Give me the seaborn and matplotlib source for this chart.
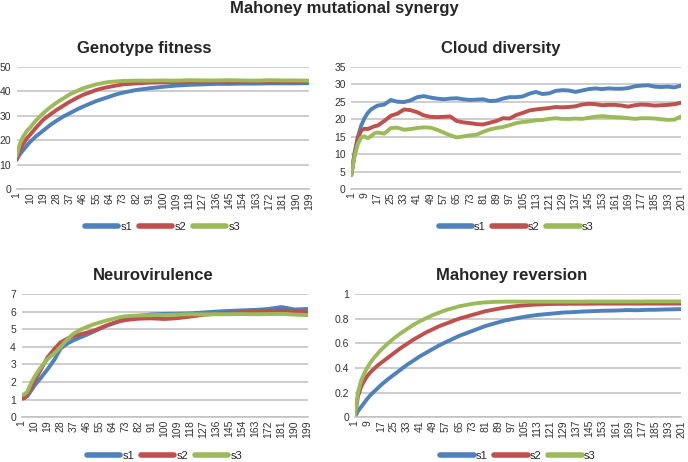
import numpy as np
import pandas as pd
import matplotlib
matplotlib.use("Agg")
import matplotlib.pyplot as plt
import seaborn as sns

# generations
gen_left = [1, 3, 5, 8, 10, 14, 19, 24, 28, 33, 37, 42, 46, 51, 55, 60, 64, 69, 73,
            82, 91, 100, 109, 118, 127, 136, 145, 154, 163, 172, 181, 190, 199]
gen_right = [1, 3, 5, 7, 9, 11, 13, 15, 17, 21, 25, 29, 33, 37, 41, 45, 49, 53, 57, 61,
             65, 69, 73, 77, 81, 85, 89, 93, 97, 101, 105, 109, 113, 117, 121, 125, 129,
             133, 137, 141, 145, 149, 153, 157, 161, 165, 169, 173, 177, 181, 185, 189,
             193, 197, 201]

# Genotype fitness
fit_s1 = [12.0, 14.0, 15.6, 17.8, 19.2, 21.5, 23.9, 26.3, 27.9, 29.8, 31.0, 32.6, 33.7,
          35.0, 36.0, 37.0, 37.8, 38.8, 39.4, 40.5, 41.2, 41.8, 42.3, 42.6, 42.8, 43.0,
          43.0, 43.1, 43.1, 43.2, 43.2, 43.2, 43.3]
fit_s2 = [12.0, 15.5, 18.0, 20.8, 22.1, 25.0, 28.3, 30.6, 32.3, 34.2, 35.7, 37.3, 38.5,
          39.6, 40.5, 41.3, 41.8, 42.4, 42.8, 43.2, 43.5, 43.6, 43.7, 43.7, 43.7, 43.8,
          43.7, 43.8, 43.8, 43.8, 43.8, 43.8, 43.8]
fit_s3 = [13.5, 18.0, 21.0, 23.8, 25.0, 28.0, 31.0, 33.5, 35.3, 37.2, 38.7, 40.1, 41.2,
          42.1, 42.8, 43.4, 43.8, 44.0, 44.2, 44.3, 44.3, 44.4, 44.3, 44.5, 44.4, 44.4,
          44.5, 44.4, 44.3, 44.5, 44.4, 44.4, 44.3]

# Cloud diversity
cloud_s1 = [4.1, 10.5, 15.0, 18.2, 20.3, 21.8, 22.8, 23.4, 23.9, 24.2, 25.5, 25.0, 24.9,
            25.4, 26.3, 26.6, 26.2, 25.9, 25.7, 25.9, 26.0, 25.7, 25.5, 25.6, 25.7, 25.2,
            25.3, 25.9, 26.3, 26.3, 26.5, 27.3, 27.8, 27.2, 27.4, 28.1, 28.3, 28.2, 27.8,
            28.2, 28.6, 28.8, 28.6, 28.8, 28.7, 28.7, 28.9, 29.4, 29.6, 29.7, 29.3, 29.2,
            29.3, 29.1, 29.6]
cloud_s2 = [4.1, 10.0, 14.5, 16.8, 17.3, 17.2, 17.6, 18.0, 18.2, 19.5, 21.0, 21.6, 22.8,
            22.6, 22.0, 21.1, 20.7, 20.6, 20.7, 20.8, 19.5, 19.1, 18.9, 18.6, 18.5, 19.0,
            19.5, 20.3, 20.2, 21.2, 21.8, 22.5, 22.8, 23.0, 23.2, 23.5, 23.4, 23.5, 23.7,
            24.2, 24.4, 24.3, 24.0, 24.1, 24.1, 23.9, 23.6, 24.0, 24.2, 24.1, 23.9, 24.0,
            24.1, 24.3, 24.7]
cloud_s3 = [4.1, 9.5, 13.0, 14.8, 15.1, 14.6, 15.2, 16.0, 16.2, 15.9, 17.5, 17.6, 17.0,
            17.2, 17.5, 17.7, 17.6, 17.0, 16.2, 15.4, 14.8, 15.1, 15.4, 15.6, 16.4, 17.1,
            17.5, 17.8, 18.3, 18.9, 19.2, 19.4, 19.7, 19.8, 20.1, 20.3, 20.1, 20.1, 20.2,
            20.1, 20.4, 20.7, 20.9, 20.7, 20.6, 20.5, 20.3, 20.1, 20.3, 20.3, 20.2, 20.0,
            19.8, 19.9, 20.8]

# Neurovirulence
neuro_s1 = [1.08, 1.12, 1.2, 1.55, 1.8, 2.2, 2.72, 3.3, 3.9, 4.2, 4.37, 4.55, 4.68, 4.87,
            5.02, 5.2, 5.32, 5.49, 5.6, 5.75, 5.84, 5.87, 5.88, 5.9, 5.95, 6.0, 6.04, 6.07,
            6.1, 6.15, 6.26, 6.12, 6.15]
neuro_s2 = [1.05, 1.08, 1.3, 1.75, 2.05, 2.65, 3.4, 3.9, 4.25, 4.48, 4.6, 4.72, 4.8, 4.92,
            5.05, 5.22, 5.33, 5.45, 5.52, 5.6, 5.62, 5.58, 5.63, 5.72, 5.82, 5.88, 5.93,
            5.97, 6.0, 6.03, 6.06, 6.03, 5.98]
neuro_s3 = [1.27, 1.3, 1.45, 2.0, 2.3, 2.8, 3.3, 3.65, 4.0, 4.45, 4.75, 4.98, 5.12, 5.28,
            5.38, 5.5, 5.58, 5.68, 5.74, 5.78, 5.8, 5.81, 5.83, 5.85, 5.84, 5.85, 5.85,
            5.86, 5.85, 5.86, 5.87, 5.83, 5.8]

# Mahoney reversion
rev_s1 = [0, 0.05, 0.085, 0.12, 0.155, 0.185, 0.21, 0.235, 0.26, 0.305, 0.345, 0.385,
          0.425, 0.46, 0.495, 0.525, 0.555, 0.585, 0.61, 0.635, 0.66, 0.68, 0.70, 0.72,
          0.74, 0.755, 0.77, 0.785, 0.795, 0.805, 0.815, 0.823, 0.83, 0.835, 0.84, 0.845,
          0.85, 0.852, 0.855, 0.858, 0.86, 0.862, 0.864, 0.865, 0.866, 0.868, 0.87, 0.868,
          0.87, 0.872, 0.872, 0.874, 0.875, 0.876, 0.878]
rev_s2 = [0, 0.17, 0.25, 0.3, 0.34, 0.37, 0.395, 0.42, 0.44, 0.48, 0.52, 0.56, 0.595,
          0.63, 0.66, 0.69, 0.715, 0.74, 0.76, 0.78, 0.80, 0.815, 0.83, 0.845, 0.86, 0.87,
          0.88, 0.89, 0.897, 0.903, 0.908, 0.912, 0.915, 0.917, 0.919, 0.92, 0.92, 0.921,
          0.921, 0.921, 0.921, 0.922, 0.922, 0.922, 0.922, 0.922, 0.922, 0.922, 0.922,
          0.922, 0.922, 0.922, 0.922, 0.922, 0.922]
rev_s3 = [0, 0.2, 0.3, 0.36, 0.41, 0.45, 0.485, 0.515, 0.545, 0.595, 0.64, 0.68, 0.715,
          0.75, 0.78, 0.805, 0.83, 0.85, 0.87, 0.885, 0.9, 0.91, 0.92, 0.927, 0.932, 0.935,
          0.937, 0.938, 0.938, 0.938, 0.938, 0.938, 0.938, 0.938, 0.938, 0.938, 0.938,
          0.938, 0.938, 0.938, 0.939, 0.939, 0.939, 0.939, 0.939, 0.939, 0.939, 0.939,
          0.939, 0.94, 0.94, 0.94, 0.94, 0.94, 0.94]

series_names = ["s1", "s2", "s3"]
colors = ["#4F81BD", "#C0504D", "#9BBB59"]

sns.set_style("white")
plt.rcParams["font.family"] = ["Liberation Sans", "DejaVu Sans"]

fig = plt.figure(figsize=(6.88, 4.62), dpi=100)
W, H = 688, 462


def make_ax(x0, x1, ytop, ybot):
    return fig.add_axes([x0 / W, 1 - ybot / H, (x1 - x0) / W, (ybot - ytop) / H])


# title, x, series, ylim, y step, axes, x ticks, title centre (px)
panels = [
    ("Genotype fitness", gen_left, [fit_s1, fit_s2, fit_s3], (0, 50), 10,
     make_ax(16.5, 309, 66.7, 189.3), range(1, 200, 9), 144),
    ("Cloud diversity", gen_right, [cloud_s1, cloud_s2, cloud_s3], (0, 35), 5,
     make_ax(351.3, 681, 66.7, 189.3), range(1, 202, 8), 501),
    ("Neurovirulence", gen_left, [neuro_s1, neuro_s2, neuro_s3], (0, 7), 1,
     make_ax(21.5, 307.5, 294, 417.3), range(1, 200, 9), 153),
    ("Mahoney reversion", gen_right, [rev_s1, rev_s2, rev_s3], (0, 1), 0.2,
     make_ax(354.7, 681, 294, 417.3), range(1, 202, 8), 512),
]

for title, gens, vals, ylim, ystep, ax, xt, tx in panels:
    df = pd.DataFrame({
        "gen": gens * 3,
        "value": vals[0] + vals[1] + vals[2],
        "series": [s for s in series_names for _ in gens],
    })
    sns.lineplot(data=df, x="gen", y="value", hue="series", palette=colors,
                 linewidth=2.8, ax=ax)
    ax.set_xlim(gens[0], gens[-1])
    ax.set_ylim(*ylim)
    yt = np.arange(ylim[0], ylim[1] + ystep / 2, ystep)
    ax.set_yticks(yt)
    ax.set_yticklabels([f"{v:g}" for v in yt])
    ax.set_xticks(list(xt))
    ax.set_xticklabels([str(v) for v in xt], rotation=90)
    ax.tick_params(axis="both", length=0, labelsize=7.5, colors="#333333")
    ax.tick_params(axis="x", pad=2)
    ax.tick_params(axis="y", pad=4)
    ax.grid(axis="y", color="#C0C0C0", linewidth=1.1)
    ax.set_axisbelow(True)
    for side in ["top", "right", "left"]:
        ax.spines[side].set_visible(False)
    ax.spines["bottom"].set_color("#C0C0C0")
    ax.spines["bottom"].set_linewidth(1.1)
    ax.set_xlabel("")
    ax.set_ylabel("")
    pos = ax.get_position()
    ax.set_title(title, fontsize=12, fontweight="bold", pad=10,
                 x=(tx / W - pos.x0) / pos.width)
    sns.move_legend(ax, "center", bbox_to_anchor=(0.5, -0.31), ncol=3, frameon=False,
                    title=None, fontsize=8, handlelength=3, columnspacing=0.6,
                    handletextpad=0.2)
    for h in ax.get_legend().legend_handles:
        h.set_linewidth(4)

fig.text(0.5, 1 - 9 / H, "Mahoney mutational synergy", ha="center", va="center",
         fontsize=12, fontweight="bold")

fig.savefig("out.png", dpi=100)
